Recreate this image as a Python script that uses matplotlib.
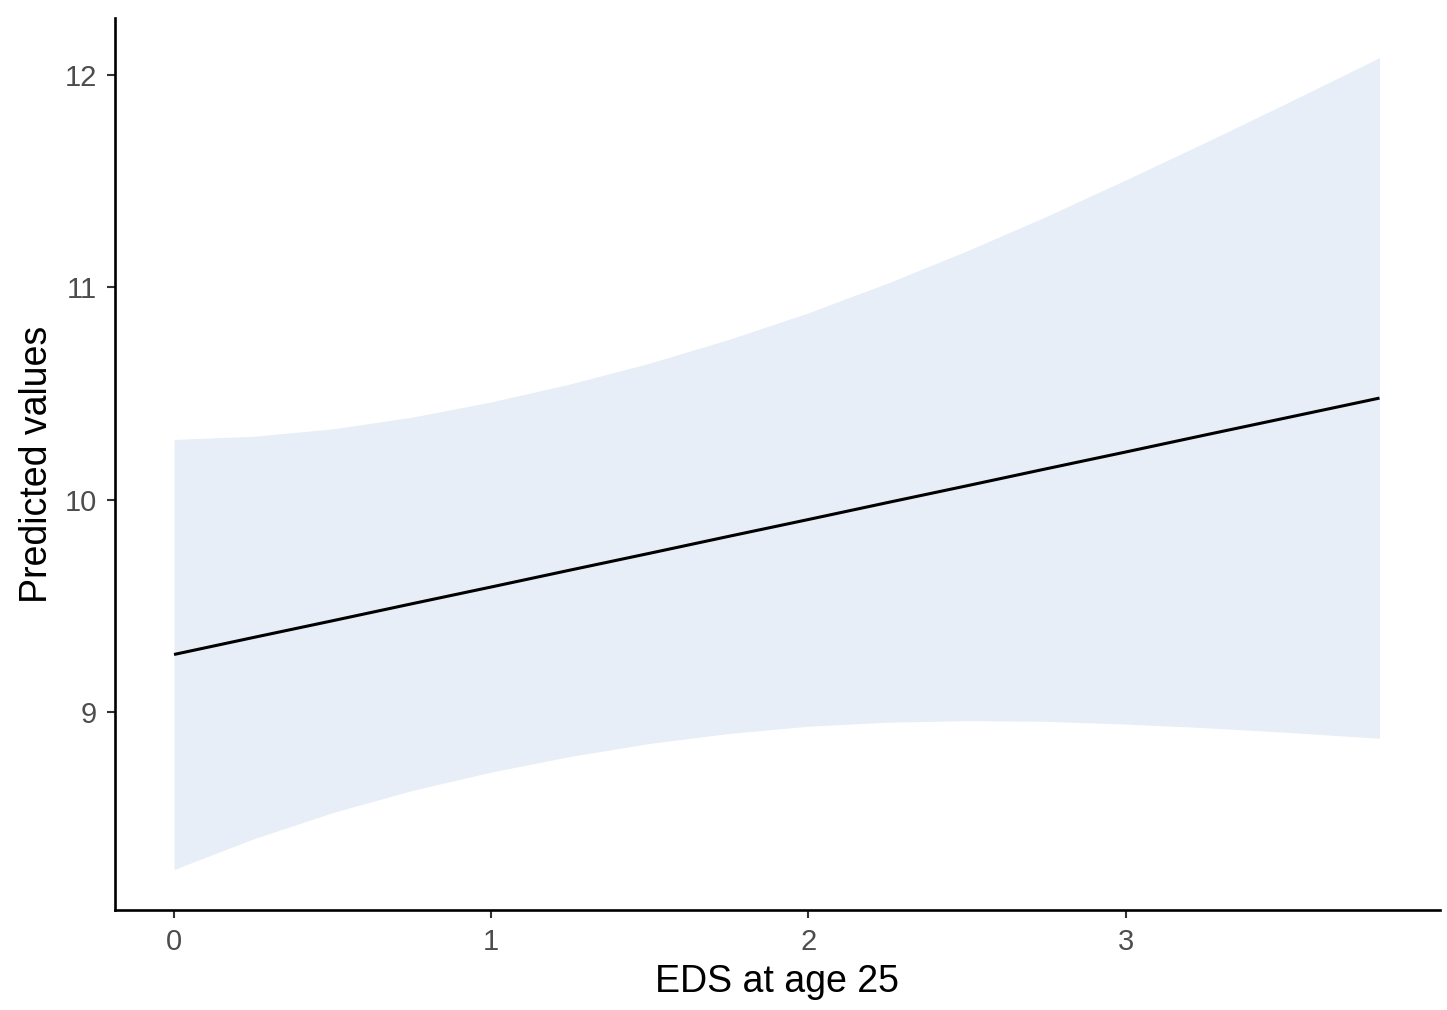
import matplotlib
matplotlib.use("Agg")
from matplotlib import pyplot
import numpy

# predicted values with confidence band, read at fixed EDS levels
eds = [0.0, 0.25, 0.5, 0.75, 1.0, 1.25, 1.5, 1.75, 2.0, 2.25, 2.5, 2.75, 3.0, 3.25, 3.5, 3.8]
predicted = [9.270, 9.350, 9.429, 9.509, 9.588, 9.668, 9.747, 9.827, 9.906, 9.986,
             10.065, 10.145, 10.224, 10.304, 10.383, 10.478]
upper = [10.283, 10.298, 10.333, 10.388, 10.460, 10.545, 10.643, 10.755, 10.880, 11.020,
         11.172, 11.334, 11.506, 11.682, 11.862, 12.082]
lower = [8.257, 8.401, 8.525, 8.629, 8.716, 8.790, 8.851, 8.898, 8.932, 8.951,
         8.958, 8.955, 8.942, 8.925, 8.904, 8.875]

xticks = [0, 1, 2, 3]
yticks = [9, 10, 11, 12]

pyplot.rcParams["font.family"] = ["Liberation Sans", "DejaVu Sans"]

fig = pyplot.figure(figsize=(14.47, 10.10), dpi=100)
ax = fig.add_axes([0.0795, 0.099, 0.9155, 0.883])

ax.fill_between(eds, lower, upper, color="#e8eef7", lw=0)
ax.plot(eds, predicted, "-", color="black", lw=2.2, solid_capstyle="butt")

ax.set_xlim(-0.186, 3.99)
ax.set_ylim(8.066, 12.268)
ax.set_xticks(xticks)
ax.set_yticks(yticks)
ax.tick_params(axis="both", length=6, width=1.5, color="#333333",
               labelcolor="#4d4d4d", labelsize=21, pad=7)

for side in ["top", "right"]:
    ax.spines[side].set_visible(False)
for side in ["left", "bottom"]:
    ax.spines[side].set_linewidth(1.9)
    ax.spines[side].set_color("black")

ax.set_xlabel("EDS at age 25", fontsize=27, labelpad=6)
ax.set_ylabel("Predicted values", fontsize=27, labelpad=7)

pyplot.savefig("out.png", dpi=100, facecolor="white")
pyplot.close()
